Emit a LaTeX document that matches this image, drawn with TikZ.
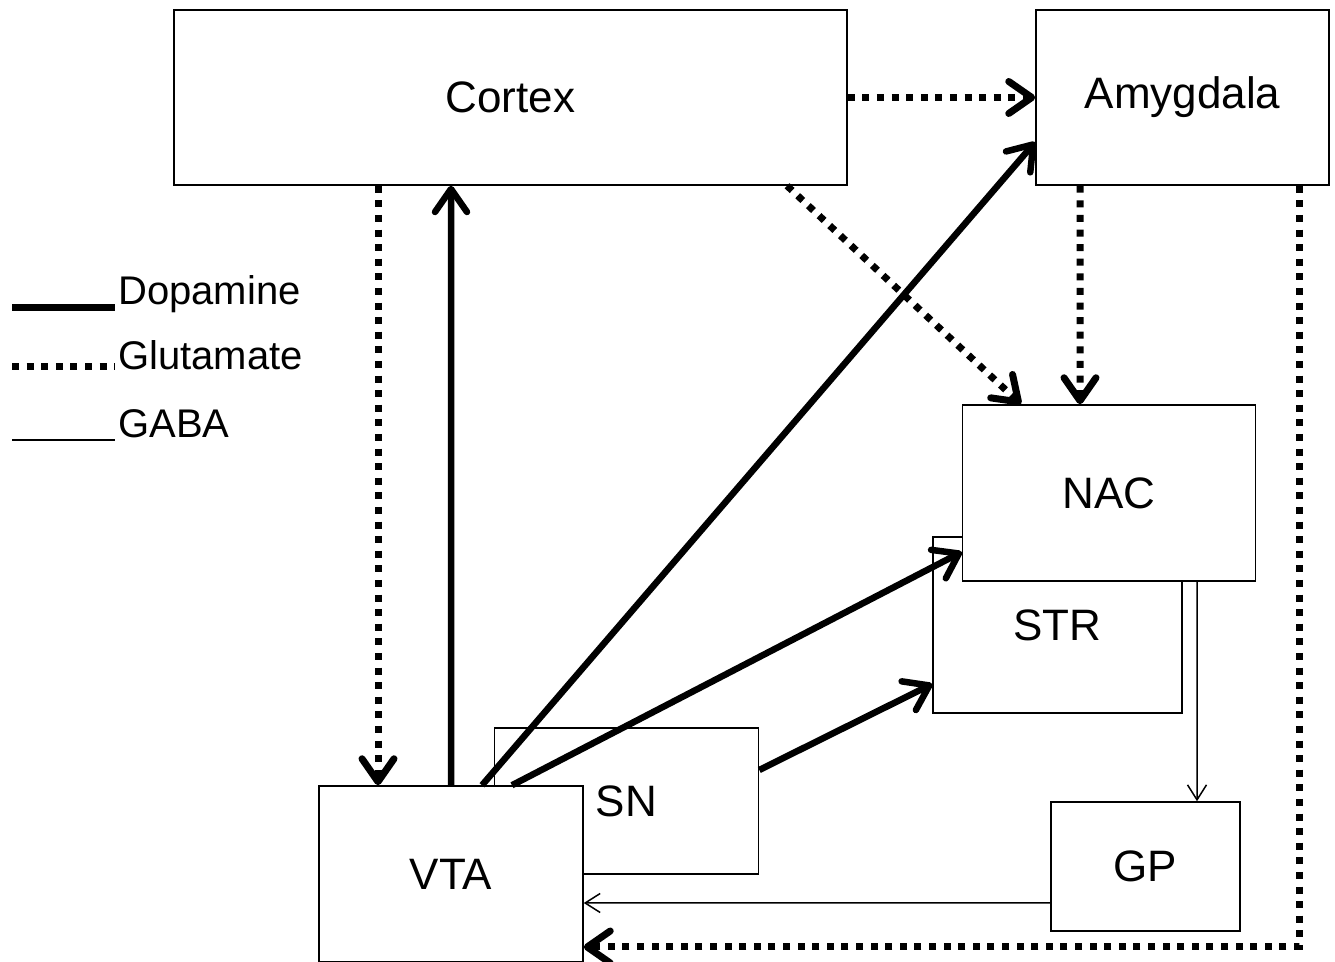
\documentclass[tikz,border=0pt]{standalone}
\usepackage{fontspec}
\setmainfont{Liberation Sans}
\usetikzlibrary{arrows.meta}
\tikzset{
  area/.style={draw,rectangle,line width=1.5bp,fill=white,inner sep=0pt,
    font=\fontsize{44bp}{44bp}\selectfont},
  legtext/.style={inner sep=0pt,anchor=base west,font=\fontsize{40bp}{40bp}\selectfont},
  dopa/.style={line width=6.5bp,-{Straight Barb[length=23bp,width=32bp,round]}},
  glu/.style={line width=7bp,dash pattern=on 7bp off 7.6bp,-{Straight Barb[length=23bp,width=32bp,round]}},
  gaba/.style={line width=1.5bp,-{Straight Barb[length=15bp,width=19bp]}},
}
\begin{document}
\begin{tikzpicture}[line join=miter]
  \useasboundingbox (0bp,0bp) rectangle (1335bp,962bp);
%%
  \node (Cortex) at (510.5bp,864.5bp) [area,minimum width=673bp,minimum height=175bp] {Cortex};
  \node (Amygdala) at (1182.5bp,864.5bp) [area,minimum width=293bp,minimum height=175bp] {Amygdala};
  \node (STR) at (1057.5bp,337.0bp) [area,minimum width=249bp,minimum height=176bp] {STR};
  \node (NAC) at (1109.0bp,469.0bp) [area,minimum width=293bp,minimum height=176bp] {NAC};
  \node (SN) at (626.5bp,161.0bp) [area,minimum width=264bp,minimum height=146bp] {SN};
  \node (VTA) at (451.0bp,88.0bp) [area,minimum width=264bp,minimum height=176bp] {VTA};
  \node (GP) at (1145.5bp,95.5bp) [area,minimum width=189bp,minimum height=129bp] {GP};
  % legend
  \node (DopaTxt) at (118bp,657bp) [legtext] {Dopamine};
  \node (GluTxt) at (118bp,592bp) [legtext] {Glutamate};
  \node (GabaTxt) at (118bp,524bp) [legtext] {GABA};
  \coordinate (DopaL) at (12bp,654bp);
  \coordinate (GluL) at (12bp,595bp);
  \coordinate (GabaL) at (12bp,522bp);
  \draw [line width=7bp] (DopaL) -- ([xshift=-3bp]DopaL -| DopaTxt.west);
  \draw [line width=7bp,dash pattern=on 7bp off 7.6bp] (GluL) -- ([xshift=-3bp]GluL -| GluTxt.west);
  \draw [line width=1.5bp] (GabaL) -- ([xshift=-3bp]GabaL -| GabaTxt.west);
  % glutamate
  \draw [glu] (Cortex.east) -- (Amygdala.west);
  \draw [glu] ([xshift=-132.5bp]Cortex.south) -- ([xshift=-73bp]VTA.north);
  \draw [glu] ([xshift=276.5bp]Cortex.south) -- ([xshift=-88bp]NAC.north);
  \draw [glu] ([xshift=-102.5bp]Amygdala.south) -- ([xshift=-29bp]NAC.north);
  \draw [glu] ([xshift=116.5bp]Amygdala.south) |- ([yshift=-73bp]VTA.east);
  % dopamine
  \draw [dopa] (VTA.north) -- ([xshift=-59.5bp]Cortex.south);
  \draw [dopa] ([xshift=31bp]VTA.north) -- ([yshift=-44.5bp]Amygdala.west);
  \draw [dopa] ([xshift=61bp]VTA.north) -- ([yshift=-59bp]NAC.west);
  \draw [dopa] ([yshift=31bp]SN.east) -- ([yshift=-59bp]STR.west);
  % GABA
  \draw [gaba] ([xshift=88bp]NAC.south) -- ([xshift=51.5bp]GP.north);
  \draw [gaba] ([yshift=-36.5bp]GP.west) -- ([yshift=-29bp]VTA.east);
%
\end{tikzpicture}
\end{document}
